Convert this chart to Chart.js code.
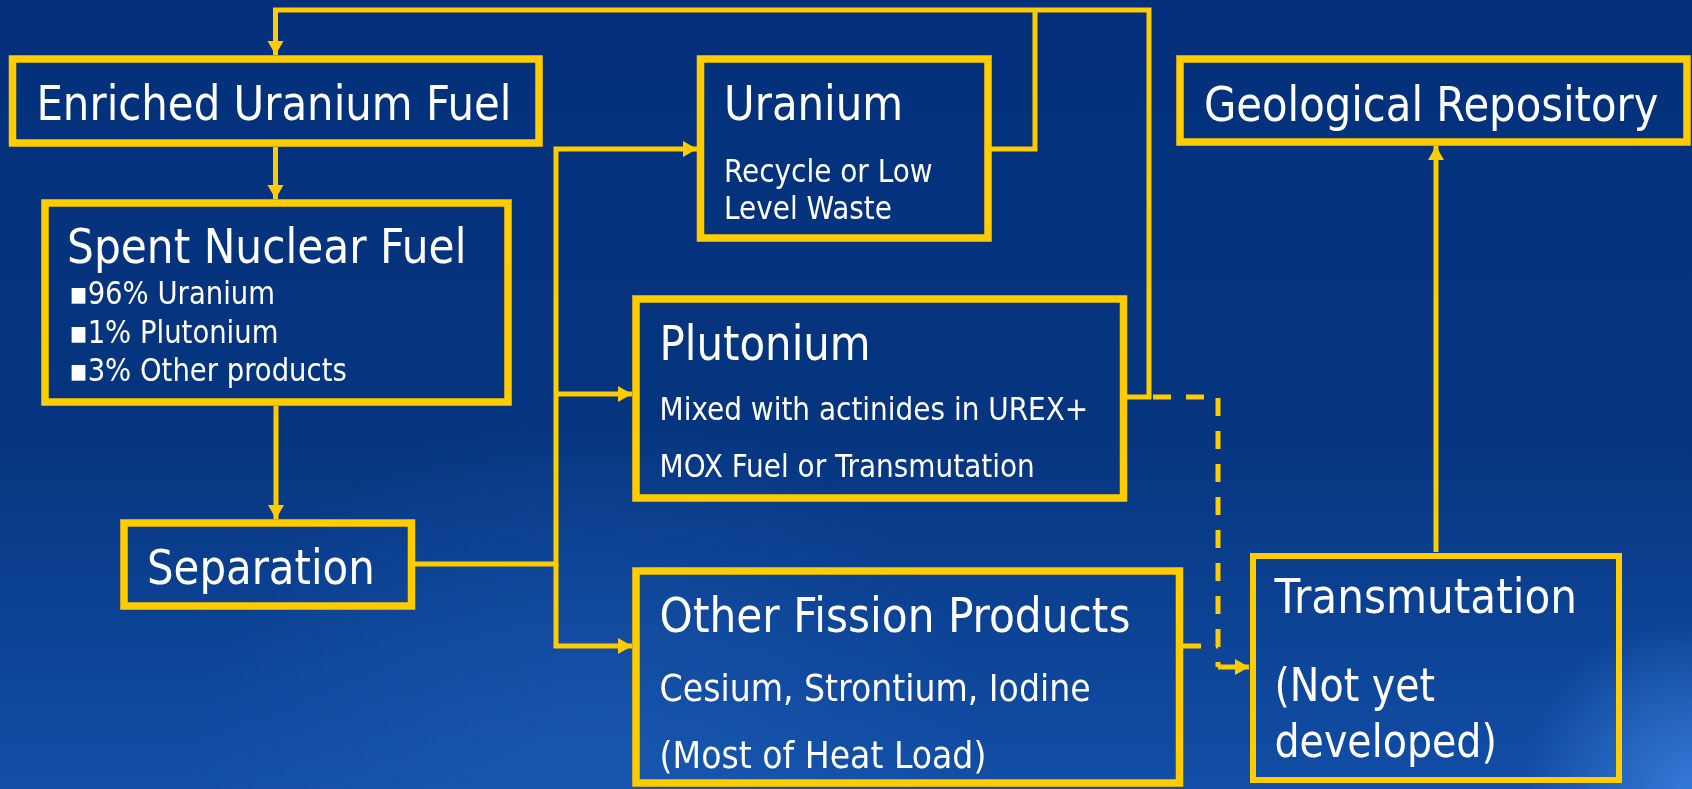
<!DOCTYPE html>
<html>
<head>
<meta charset="utf-8">
<script src="https://cdn.jsdelivr.net/npm/chart.js@4.4.1/dist/chart.umd.min.js"></script>
<style>
    html, body { margin: 0; padding: 0; overflow: hidden; background: #04307b; }
    #wrap { position: relative; width: 1692px; height: 789px; }
</style>
</head>
<body>
<div id="wrap"><canvas id="flow"></canvas></div>
<script>
// Boxes of the fuel-cycle diagram, in diagram units: [left, top, right, bottom]
const boxNames = ['enriched', 'spent', 'separation', 'uranium', 'plutonium', 'fission', 'repository', 'transmutation'];
const boxEdges = [
    [12.5, 59, 539, 143],
    [45, 203, 508, 402],
    [124, 523, 411.5, 606],
    [700.5, 59, 988, 238],
    [636, 299, 1123.5, 498],
    [636, 571, 1179.5, 783],
    [1180, 59, 1687, 142],
    [1253, 556, 1619, 780]
];

// Box texts
const boxTitles = [
    'Enriched Uranium Fuel', 'Spent Nuclear Fuel', 'Separation', 'Uranium',
    'Plutonium', 'Other Fission Products', 'Geological Repository', 'Transmutation'
];
const boxNotes = [
    [],
    ['\u25AA96% Uranium', '\u25AA1% Plutonium', '\u25AA3% Other products'],
    [],
    ['Recycle or Low', 'Level Waste'],
    ['Mixed with actinides in UREX+', 'MOX Fuel or Transmutation'],
    ['Cesium, Strontium, Iodine', '(Most of Heat Load)'],
    [],
    ['(Not yet', 'developed)']
];

// Flow connectors: polyline points, arrow head at the last point
const arrowPaths = [
    [[1123.5, 397], [1149, 397], [1149, 10], [275.5, 10], [275.5, 55]],
    [[275.5, 147], [275.5, 199]],
    [[276, 406], [276, 519]],
    [[415, 564], [556, 564], [556, 149], [697, 149]],
    [[556, 394], [632, 394]],
    [[556, 564], [556, 646], [632, 646]],
    [[1436, 552], [1436, 146]],
    [[1218, 667], [1249, 667]]
];
const plainPaths = [
    [[988, 149], [1035, 149], [1035, 10]]
];
const dashedPaths = [
    [[1153, 397], [1218, 397], [1218, 667]],
    [[1183, 646], [1218, 646]]
];

// Text layout: [x, baseline, size, face] for titles, [x, first baseline, line step, size, face] for notes
const titleLayout = [
    [36.4, 120, 48, 'c'], [67, 263, 48.5, 'c'], [147, 584, 48, 'c'], [724, 120, 48, 'c'],
    [659.6, 360, 48, 'c'], [659.6, 631.7, 48.5, 'c'], [1204, 121, 48, 'w'], [1274.4, 613, 48.5, 'w']
];
const noteLayout = [
    null, [69, 304, 38.5, 31.5, 'c'], null, [724, 181.7, 37.3, 32, 'c'],
    [659.6, 420, 57, 32, 'c'], [659.6, 700.7, 67.3, 38, 'c'], null, [1274.4, 700.5, 56, 45.5, 'w']
];

const YELLOW = '#ffcc00';
const faces = {
    c: { family: '"DejaVu Sans Condensed", "DejaVu Sans", sans-serif', squeeze: 0.97 },
    w: { family: '"DejaVu Sans", sans-serif', squeeze: 0.87 }
};

const toPoints = path => path.map(p => ({ x: p[0], y: p[1] }));

const datasets = [];
boxEdges.forEach((b, i) => {
    const [l, t, r, btm] = b;
    datasets.push({
        label: boxNames[i],
        data: toPoints([[l, t], [r, t], [r, btm], [l, btm], [l, t], [r, t]]),
        borderColor: YELLOW,
        borderWidth: boxNames[i] === 'transmutation' ? 6 : 7.5,
        borderJoinStyle: 'miter',
        pointRadius: 0,
        fill: false,
        clip: false
    });
});
arrowPaths.forEach((path, i) => {
    datasets.push({
        label: 'arrow' + i,
        data: toPoints(path),
        borderColor: YELLOW,
        borderWidth: 5,
        borderJoinStyle: 'miter',
        pointRadius: 0,
        fill: false,
        clip: false,
        arrow: true
    });
});
plainPaths.forEach((path, i) => {
    datasets.push({
        label: 'link' + i,
        data: toPoints(path),
        borderColor: YELLOW,
        borderWidth: 5,
        borderJoinStyle: 'miter',
        pointRadius: 0,
        fill: false,
        clip: false
    });
});
dashedPaths.forEach((path, i) => {
    datasets.push({
        label: 'dashed' + i,
        data: toPoints(path),
        borderColor: YELLOW,
        borderWidth: 5,
        borderDash: [18, 15],
        pointRadius: 0,
        fill: false,
        clip: false
    });
});

// Slide background
const backdrop = {
    id: 'backdrop',
    beforeDraw(chart) {
        const { ctx, width, height } = chart;
        ctx.save();
        const g = ctx.createLinearGradient(0, 0, 0, height);
        g.addColorStop(0, '#04307b');
        g.addColorStop(0.55, '#06357f');
        g.addColorStop(1, '#124ea6');
        ctx.fillStyle = g;
        ctx.fillRect(0, 0, width, height);

        const r1 = ctx.createRadialGradient(width * 0.35, height * 1.05, 10, width * 0.35, height * 1.05, 420);
        r1.addColorStop(0, 'rgba(30, 95, 185, 0.55)');
        r1.addColorStop(1, 'rgba(30, 95, 185, 0)');
        ctx.fillStyle = r1;
        ctx.fillRect(0, 0, width, height);

        const r2 = ctx.createRadialGradient(width, height, 5, width, height, 170);
        r2.addColorStop(0, 'rgba(60, 130, 225, 0.8)');
        r2.addColorStop(1, 'rgba(60, 130, 225, 0)');
        ctx.fillStyle = r2;
        ctx.fillRect(0, 0, width, height);
        ctx.restore();
    }
};

// Arrow heads at the end of each arrow path
const arrowHeads = {
    id: 'arrowHeads',
    afterDatasetsDraw(chart) {
        const ctx = chart.ctx;
        chart.data.datasets.forEach((ds, i) => {
            if (!ds.arrow) return;
            const pts = chart.getDatasetMeta(i).data;
            const tip = pts[pts.length - 1];
            const from = pts[pts.length - 2];
            const ang = Math.atan2(tip.y - from.y, tip.x - from.x);
            const len = 14, half = 8;
            ctx.save();
            ctx.translate(tip.x, tip.y);
            ctx.rotate(ang);
            ctx.beginPath();
            ctx.moveTo(0, 0);
            ctx.lineTo(-len, -half);
            ctx.lineTo(-len, half);
            ctx.closePath();
            ctx.fillStyle = YELLOW;
            ctx.fill();
            ctx.restore();
        });
    }
};

// Box texts
const boxText = {
    id: 'boxText',
    afterDatasetsDraw(chart) {
        const { ctx, scales } = chart;
        const put = (text, x, y, size, face) => {
            const f = faces[face];
            ctx.save();
            ctx.translate(scales.x.getPixelForValue(x), scales.y.getPixelForValue(y));
            ctx.scale(f.squeeze, 1);
            ctx.font = size + 'px ' + f.family;
            ctx.fillStyle = '#ffffff';
            ctx.textBaseline = 'alphabetic';
            ctx.fillText(text, 0, 0);
            ctx.restore();
        };
        boxTitles.forEach((t, i) => {
            const [x, y, size, face] = titleLayout[i];
            put(t, x, y, size, face);
            const nl = noteLayout[i];
            if (!nl) return;
            boxNotes[i].forEach((line, k) => put(line, nl[0], nl[1] + k * nl[2], nl[3], nl[4]));
        });
    }
};

new Chart(document.getElementById('flow'), {
    type: 'line',
    data: { datasets },
    options: {
        responsive: true,
        maintainAspectRatio: false,
        animation: false,
        events: [],
        layout: { padding: 0 },
        plugins: {
            legend: { display: false },
            tooltip: { enabled: false }
        },
        scales: {
            x: { type: 'linear', min: 0, max: 1692, display: false },
            y: { type: 'linear', min: 0, max: 789, reverse: true, display: false }
        }
    },
    plugins: [backdrop, arrowHeads, boxText]
});
</script>
</body>
</html>
